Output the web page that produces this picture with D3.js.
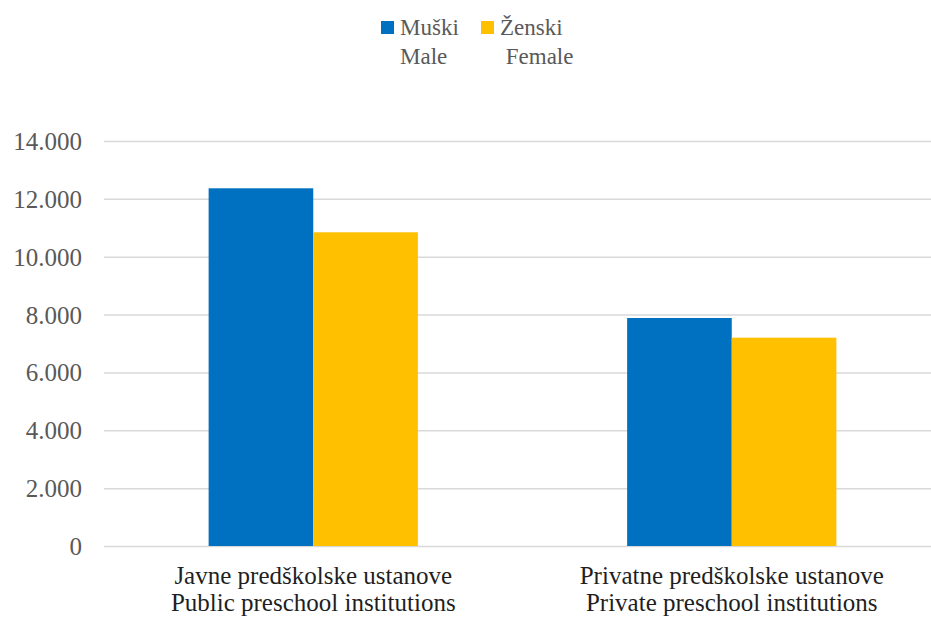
<!DOCTYPE html>
<html>
<head>
<meta charset="utf-8">
<script src="https://cdn.jsdelivr.net/npm/d3@7"></script>
<style>
  body { margin: 0; background: #fff; }
  text { font-family: "Liberation Serif", "Times New Roman", serif; }
</style>
</head>
<body>
<script>
// Chart values
const categories = [
  ["Javne predškolske ustanove", "Public preschool institutions"],
  ["Privatne predškolske ustanove", "Private preschool institutions"]
]
const seriesNames = [["Muški", "Male"], ["Ženski", " Female"]]
const seriesColors = ["#0070c0", "#ffc000"]
const maleValues = [12365, 7881]
const femaleValues = [10844, 7201]
const yTicks = [0, 2000, 4000, 6000, 8000, 10000, 12000, 14000]

const width = 931
const height = 617

const svg = d3.select("body")
    .append("svg")
    .attr("width", width)
    .attr("height", height)

const catKeys = categories.map(d => d[0])
const rows = catKeys.map((k, i) => ({key: k, values: [maleValues[i], femaleValues[i]]}))

const x0 = d3.scaleBand()
    .domain(catKeys)
    .range([104, 941])
    .padding(0)

const x1 = d3.scaleBand()
    .domain([0, 1])
    .range([0, x0.bandwidth()])
    .paddingInner(0)
    .paddingOuter(1)

const y = d3.scaleLinear()
    .domain([0, 14000])
    .range([546, 141])

const fmt = d3.formatLocale({decimal: ",", thousands: ".", grouping: [3], currency: ["", ""]}).format(",d")

// Gridlines and value labels
const axis = d3.axisLeft(y)
    .tickValues(yTicks)
    .tickFormat(fmt)
    .tickSize(-(width - 104))
    .tickPadding(22)

const gAxis = svg.append("g")
    .attr("transform", "translate(104,0)")
    .call(axis)
gAxis.select(".domain").remove()
gAxis.selectAll(".tick line")
    .attr("stroke", "#d9d9d9")
    .attr("stroke-width", 1.5)
gAxis.selectAll(".tick text")
    .attr("fill", "#595959")
    .style("font-size", "25px")
    .attr("dy", "0.34em")

// Bars
svg.append("g")
  .selectAll("g")
  .data(rows)
  .join("g")
    .attr("transform", d => `translate(${x0(d.key)},0)`)
  .selectAll("rect")
  .data(d => d.values.map((v, i) => ({i, v})))
  .join("rect")
    .attr("x", d => x1(d.i))
    .attr("width", x1.bandwidth())
    .attr("y", d => y(d.v))
    .attr("height", d => y(0) - y(d.v))
    .attr("fill", d => seriesColors[d.i])

// Category labels (two lines)
const catLabels = svg.append("g")
  .selectAll("text")
  .data(categories)
  .join("text")
    .attr("text-anchor", "middle")
    .attr("fill", "#1f1f1f")
    .style("font-size", "25px")
    .attr("transform", d => `translate(${x0(d[0]) + x0.bandwidth() / 2},0)`)
catLabels.selectAll("tspan")
  .data(d => d)
  .join("tspan")
    .attr("x", 0)
    .attr("y", (d, i) => 584 + i * 27)
    .text(d => d)

// Legend
const legendX = [381, 481]
const legend = svg.append("g")
  .selectAll("g")
  .data(seriesNames)
  .join("g")
    .attr("transform", (d, i) => `translate(${legendX[i]},21)`)
legend.append("rect")
    .attr("width", 13)
    .attr("height", 13)
    .attr("fill", (d, i) => seriesColors[i])
legend.append("text")
    .attr("fill", "#595959")
    .style("font-size", "23px")
    .style("white-space", "pre")
  .selectAll("tspan")
  .data(d => d)
  .join("tspan")
    .attr("x", 19)
    .attr("y", (d, i) => 14 + i * 28.5)
    .text(d => d)
</script>
</body>
</html>
